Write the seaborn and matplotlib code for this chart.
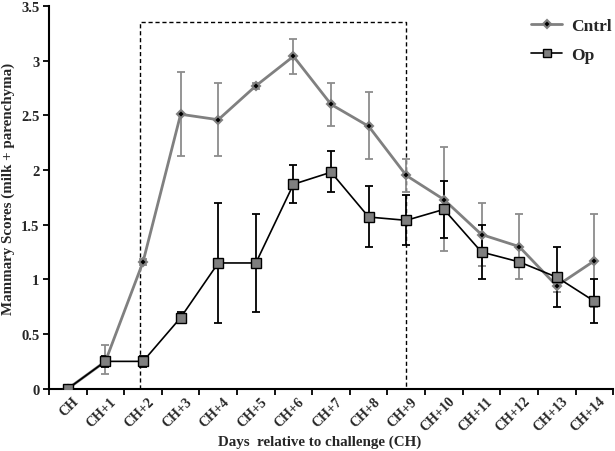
import numpy as np
import pandas as pd
import seaborn as sns
import matplotlib.pyplot as plt

# Dados
dias = ['CH'] + ['CH+%d' % i for i in range(1, 15)]
cntrl = [0, 0.25, 1.16, 2.51, 2.46, 2.77, 3.04, 2.60, 2.40, 1.95, 1.73, 1.41, 1.30, 0.94, 1.17]
cntrl_lo = [0, 0.13, 1.13, 2.13, 2.13, 2.74, 2.88, 2.40, 2.10, 1.80, 1.26, 1.12, 1.00, 0.88, 0.75]
cntrl_hi = [0, 0.40, 1.19, 2.90, 2.80, 2.80, 3.20, 2.80, 2.71, 2.10, 2.21, 1.70, 1.60, 1.00, 1.60]
op = [0, 0.25, 0.25, 0.65, 1.15, 1.15, 1.87, 1.98, 1.57, 1.54, 1.64, 1.25, 1.16, 1.02, 0.80]
op_lo = [0, 0.20, 0.20, 0.60, 0.60, 0.70, 1.70, 1.80, 1.30, 1.31, 1.38, 1.00, 1.13, 0.75, 0.60]
op_hi = [0, 0.30, 0.30, 0.70, 1.70, 1.60, 2.05, 2.17, 1.85, 1.77, 1.90, 1.50, 1.19, 1.30, 1.00]

df = pd.DataFrame({'Dia': dias * 2,
                   'Score': cntrl + op,
                   'Grupo': ['Cntrl'] * len(dias) + ['Op'] * len(dias)})

sns.set_style('white')
plt.rcParams['font.family'] = ['Liberation Serif', 'DejaVu Serif']
plt.rcParams['font.weight'] = 'bold'

fig = plt.figure(figsize=(6.15, 4.52), dpi=100)
ax = fig.add_axes([0.0797, 0.1378, 0.9173, 0.8467])

x = np.arange(len(dias))

# Barras de erro
ax.errorbar(x, cntrl, yerr=[np.array(cntrl) - cntrl_lo, np.array(cntrl_hi) - cntrl], fmt='none',
            ecolor='#8c8c8c', elinewidth=1.3, capsize=3, capthick=1.3, zorder=2)
ax.errorbar(x, op, yerr=[np.array(op) - op_lo, np.array(op_hi) - op], fmt='none',
            ecolor='black', elinewidth=1.3, capsize=3, capthick=1.3, zorder=3)

# Linhas
cntrl_df = df[df['Grupo'] == 'Cntrl']
op_df = df[df['Grupo'] == 'Op']
sns.lineplot(x=x, y=cntrl_df['Score'].values, ax=ax, color='#808080', linewidth=2,
             marker='D', markersize=4.5, markerfacecolor='black', markeredgecolor='#808080',
             markeredgewidth=1.5, label='Cntrl', zorder=4)
sns.lineplot(x=x, y=op_df['Score'].values, ax=ax, color='black', linewidth=1.2,
             marker='s', markersize=7.5, markerfacecolor='#7f7f7f', markeredgecolor='black',
             markeredgewidth=1, label='Op', zorder=5)

# Retângulo tracejado (CH+2 a CH+9)
ax.plot([1.92, 1.92, 9, 9], [0, 3.35, 3.35, 0], color='black', linestyle=(0, (3, 2)),
        linewidth=1, zorder=1)

# Eixos
ax.set_xlim(-0.5, len(dias) - 0.5)
ax.set_ylim(0, 3.5)
ax.set_yticks(np.arange(0, 3.51, 0.5))
ax.set_yticklabels(['0', '0.5', '1', '1.5', '2', '2.5', '3', '3.5'], fontsize=10.5, fontweight='bold')
ax.set_xticks(np.arange(-0.5, len(dias), 1))
ax.set_xticklabels([])
ax.set_xticks(x + 0.12, minor=True)
ax.set_xticklabels(dias, minor=True, rotation=45, ha='right', rotation_mode='anchor',
                   fontsize=10, fontweight='bold')
ax.tick_params(axis='x', which='minor', length=0, pad=4)
ax.tick_params(axis='x', which='major', direction='out', length=4, width=1.3, color='black', bottom=True)
ax.tick_params(axis='y', direction='out', length=4, width=1.3, color='black', left=True, pad=3)

for s in ['top', 'right']:
    ax.spines[s].set_visible(False)
for s in ['left', 'bottom']:
    ax.spines[s].set_color('black')
    ax.spines[s].set_linewidth(1.5)

ax.set_xlabel('Days  relative to challenge (CH)', fontsize=10.8, fontweight='bold', labelpad=1)
ax.set_ylabel('Mammary Scores (milk + parenchyma)', fontsize=10.8, fontweight='bold', labelpad=4)
ax.xaxis.label.set_x(0.479)
ax.yaxis.label.set_y(0.525)

ax.legend(loc='upper right', bbox_to_anchor=(1.025, 1.01), frameon=False,
          prop={'weight': 'bold', 'size': 12.5}, handlelength=1.8, handletextpad=0.5,
          labelspacing=0.75, markerscale=0.8)

plt.savefig('out.png', dpi=100)
